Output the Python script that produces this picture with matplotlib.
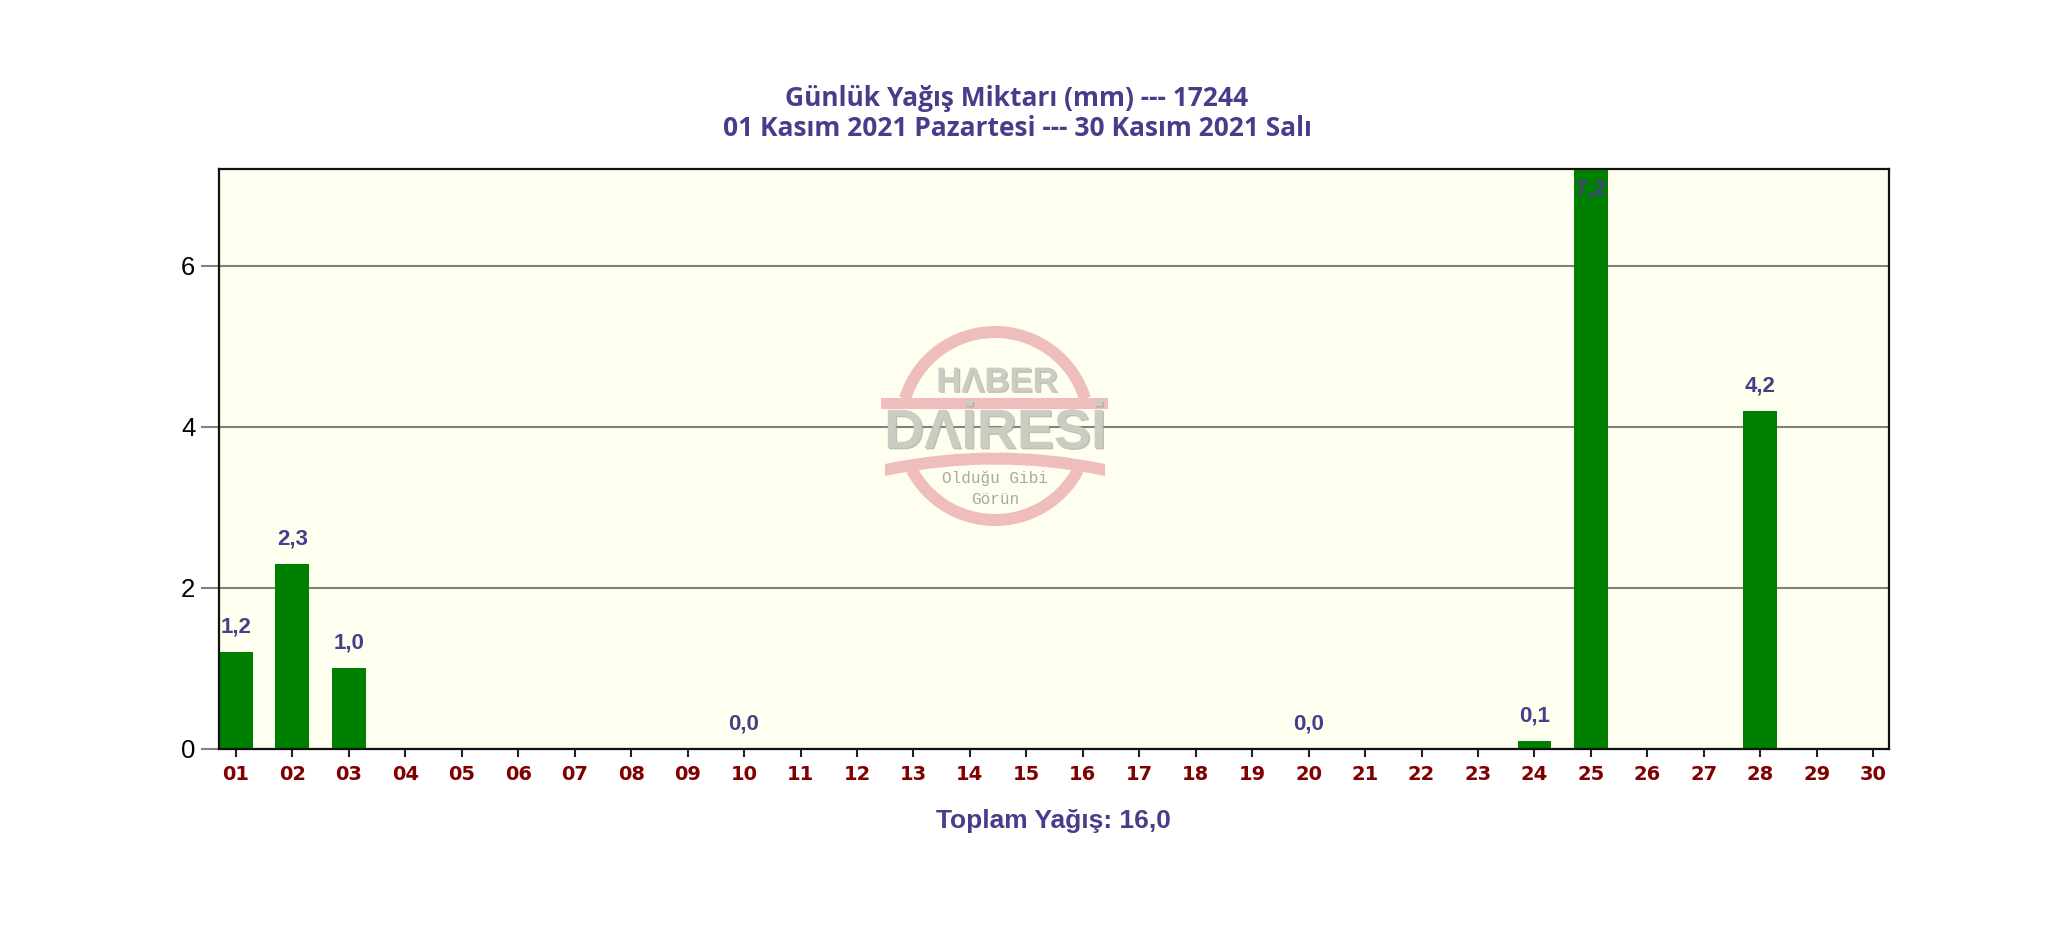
import matplotlib
matplotlib.use('Agg')
import matplotlib.pyplot as plt
import matplotlib.patheffects as pe
from matplotlib.patches import Wedge, Rectangle, PathPatch
from matplotlib.path import Path
from matplotlib.transforms import Affine2D

days = list(range(1, 31))
day_labels = ['%02d' % d for d in days]
rain_days = [1, 2, 3, 10, 20, 24, 25, 28]
rain_values = [1.2, 2.3, 1.0, 0.0, 0.0, 0.1, 7.2, 4.2]
y_ticks = [0, 2, 4, 6]
y_top = 7.2
title_lines = 'Günlük Yağış Miktarı (mm) --- 17244\n01 Kasım 2021 Pazartesi --- 30 Kasım 2021 Salı'
total_label = 'Toplam Yağış: 16,0'

W, H = 2048, 936
NAVY = '#483D8B'
MAROON = '#800000'
PINK = '#EFBDBB'
STAMP_GRAY = '#CBCCC2'


def draw_stamp(fig, ax):
    # watermark in the middle, positions in image pixels
    px = Affine2D().scale(1, -1).translate(0, H)
    cx, cy, r = 995, 426, 100
    for t1, t2 in [(197, 343), (28, 152)]:
        ax.add_patch(Wedge((cx, cy), r, t1, t2, width=12, fc=PINK, ec='none',
                           transform=px, zorder=1, clip_on=False))
    ax.add_patch(Rectangle((881, 398), 227, 11, fc=PINK, ec='none', transform=px, zorder=1))
    band = Path([(885, 464), (995, 441), (1105, 464), (1105, 476), (995, 453), (885, 476), (885, 464)],
                [Path.MOVETO, Path.CURVE3, Path.CURVE3, Path.LINETO, Path.CURVE3, Path.CURVE3, Path.CLOSEPOLY])
    ax.add_patch(PathPatch(band, fc=PINK, ec='none', transform=px, zorder=1))
    shadow = [pe.withSimplePatchShadow(offset=(1, -1), shadow_rgbFace='#A5A59D', alpha=0.7)]
    ax.text(997, 382, 'HΛBER', transform=px, ha='center', va='center', fontsize=25, fontweight='bold',
            family='Liberation Sans', color=STAMP_GRAY, zorder=1, path_effects=shadow)
    ax.text(995, 434, 'DΛİRESİ', transform=px, ha='center', va='center', fontsize=40, fontweight='bold',
            family='Liberation Sans', color=STAMP_GRAY, zorder=1, path_effects=shadow)
    ax.text(995, 479, 'Olduğu Gibi', transform=px, ha='center', va='center', fontsize=11.5,
            family='Liberation Mono', color='#A9A99F', zorder=1)
    ax.text(995, 499, 'Görün', transform=px, ha='center', va='center', fontsize=11.5,
            family='Liberation Mono', color='#A9A99F', zorder=1)


def main():
    fig = plt.figure(figsize=(W / 100, H / 100), dpi=100, facecolor='white')
    ax = fig.add_axes([219 / W, 1 - 749 / H, (1889 - 219) / W, (749 - 169) / H], facecolor='#FFFFF0')

    ax.bar(rain_days, rain_values, width=0.6, color='#008000', zorder=3)
    ax.set_xlim(0.70, 30.28)
    ax.set_ylim(0, y_top)

    ax.set_xticks(days)
    ax.set_xticklabels(day_labels, family='DejaVu Sans', fontweight='bold', fontsize=14, color=MAROON)
    ax.set_yticks(y_ticks)
    ax.set_yticklabels([str(v) for v in y_ticks], family='Liberation Sans', fontsize=18.5, color='black')
    ax.tick_params(axis='x', length=5.5, width=1.5, color='#222222', pad=6)
    ax.tick_params(axis='y', length=13, width=1.5, color='#808080', pad=4)
    ax.yaxis.grid(True, color='#808080', linewidth=1.5, zorder=2)
    ax.set_axisbelow(True)
    for s in ax.spines.values():
        s.set_linewidth(1.6)
        s.set_color('#111111')
        s.set_zorder(5)

    for d, v in zip(rain_days, rain_values):
        # the tallest label gets pushed inside the bar
        off = -20 if v >= y_top else 25
        ax.annotate(str(v).replace('.', ','), (d, v), xytext=(0, off * 0.72), textcoords='offset points',
                    ha='center', va='center', family='Liberation Sans', fontweight='bold',
                    fontsize=16, color=NAVY, zorder=6)

    draw_stamp(fig, ax)

    fig.text(1017 / W, 1 - 113.5 / H, title_lines, ha='center', va='center', family='Open Sans',
             fontweight='bold', fontsize=19, color=NAVY, linespacing=1.16)
    fig.text(1053 / W, 1 - 821 / H, total_label, ha='center', va='center', family='Liberation Sans',
             fontweight='bold', fontsize=19, color=NAVY)
    fig.savefig('out.png', dpi=100)


if __name__ == "__main__":
    main()
